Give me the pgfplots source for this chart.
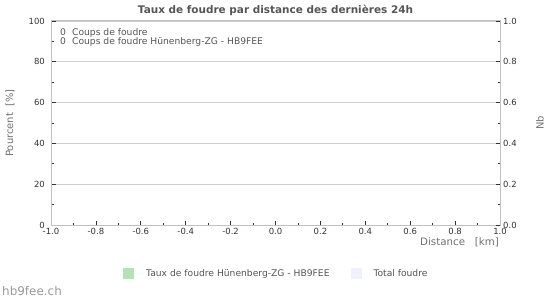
\documentclass[border=0pt]{standalone}
\usepackage{fontspec}
\setmainfont{DejaVu Sans}
\usepackage{pgfplots}
\pgfplotsset{compat=1.18}
\definecolor{titlec}{HTML}{555555}
\definecolor{labc}{HTML}{707070}
\definecolor{tickc}{HTML}{333333}
\definecolor{annc}{HTML}{555555}
\definecolor{axisc}{HTML}{C0C0C0}
\definecolor{gridc}{HTML}{D0D0D0}
\definecolor{locgreen}{HTML}{B5E2B5}
\definecolor{totlav}{HTML}{F0F0FF}
\definecolor{sitec}{HTML}{999999}
\pgfplotsset{sqlegend/.style={legend image code/.code={\fill[##1, draw=none] (0bp,-5.5bp) rectangle (11bp,5.5bp); \path (0bp,0bp) -- (#1,0bp);}}}
\begin{document}
\begin{tikzpicture}[x=1bp,y=1bp]
\useasboundingbox (0,0) rectangle (550,300);
\begin{axis}[
  at={(51bp,75bp)}, anchor=south west,
  scale only axis, width=449bp, height=204bp,
  xmin=-1, xmax=1, ymin=0, ymax=100,
  /pgf/number format/assume math mode=true,
  xtick={-1,-0.8,-0.6,-0.4,-0.2,0,0.2,0.4,0.6,0.8,1},
  ytick={0,20,40,60,80,100},
  minor x tick num=1, minor y tick num=1,
  xtick pos=lower, ytick pos=left,
  tick align=inside,
  major tick length=4.5bp, minor tick length=2.5bp,
  tick style={color=tickc, line width=0.8bp},
  axis line style={color=axisc, line width=1bp},
  ymajorgrids, grid style={color=gridc, line width=0.8bp},
  xticklabel style={font=\fontsize{8.5}{10}\selectfont, text=tickc, inner sep=0pt, anchor=north, yshift=-3.5bp,
    /pgf/number format/fixed, /pgf/number format/fixed zerofill, /pgf/number format/precision=1},
  yticklabel style={font=\fontsize{8.5}{10}\selectfont, text=tickc, inner sep=0pt, anchor=east, xshift=-6bp},
  every axis title shift=0pt,
  title={Taux de foudre par distance des dernières 24h},
  title style={at={(axis description cs:0.5,1)}, anchor=base, yshift=7.3bp, inner sep=0pt,
    font=\bfseries\fontsize{10.5}{12}\selectfont, text=titlec},
  xlabel={Distance\ \ \ [km]},
  xlabel style={at={(axis description cs:1,0)}, anchor=base east, xshift=-1bp, yshift=-20.3bp, inner sep=0pt,
    font=\fontsize{10.3}{12}\selectfont, text=labc},
  ylabel={Pourcent\ \ [\%]},
  ylabel style={at={(axis description cs:-0.0913,0.5)}, anchor=center, inner sep=0pt,
    font=\fontsize{10}{12}\selectfont, text=labc},
  legend columns=2,
  legend style={at={(axis description cs:0.1604,-0.2377)}, anchor=west, draw=none, fill=none, inner sep=0pt,
    font=\fontsize{9.2}{11}\selectfont, text=annc,
    /tikz/every even column/.append style={column sep=19bp}},
  legend cell align=left,
]
\addplot[draw=none, fill=locgreen, sqlegend=21bp] coordinates {(0,0)};
\addlegendentry{Taux de foudre Hünenberg-ZG - HB9FEE}
\addplot[draw=none, fill=totlav, sqlegend=21bp] coordinates {(0,0)};
\addlegendentry{Total foudre}
\node[anchor=base west, inner sep=0pt, font=\fontsize{9.2}{11}\selectfont, text=annc]
  at (rel axis cs:0.02,0.929) {\makebox[12bp][l]{0}Coups de foudre};
\node[anchor=base west, inner sep=0pt, font=\fontsize{9.2}{11}\selectfont, text=annc]
  at (rel axis cs:0.02,0.886) {\makebox[12bp][l]{0}Coups de foudre Hünenberg-ZG - HB9FEE};
\end{axis}
\begin{axis}[
  at={(51bp,75bp)}, anchor=south west,
  scale only axis, width=449bp, height=204bp,
  xmin=-1, xmax=1, ymin=0, ymax=1,
  /pgf/number format/assume math mode=true,
  axis x line=none, axis y line*=right,
  ytick={0,0.2,0.4,0.6,0.8,1},
  minor y tick num=1,
  tick align=inside,
  major tick length=4.5bp, minor tick length=2.5bp,
  tick style={color=tickc, line width=0.8bp},
  axis line style={color=axisc, line width=1bp, -},
  yticklabel style={font=\fontsize{8.5}{10}\selectfont, text=tickc, inner sep=0pt, anchor=west, xshift=3bp,
    /pgf/number format/fixed, /pgf/number format/fixed zerofill, /pgf/number format/precision=1},
  ylabel={Nb},
  ylabel style={at={(axis description cs:1.0891,0.5)}, anchor=center, inner sep=0pt,
    font=\fontsize{10}{12}\selectfont, text=labc},
]
\end{axis}
\node[anchor=base west, inner sep=0pt, font=\fontsize{12}{14}\selectfont, text=sitec] at (2,5) {hb9fee.ch};
\end{tikzpicture}
\end{document}
